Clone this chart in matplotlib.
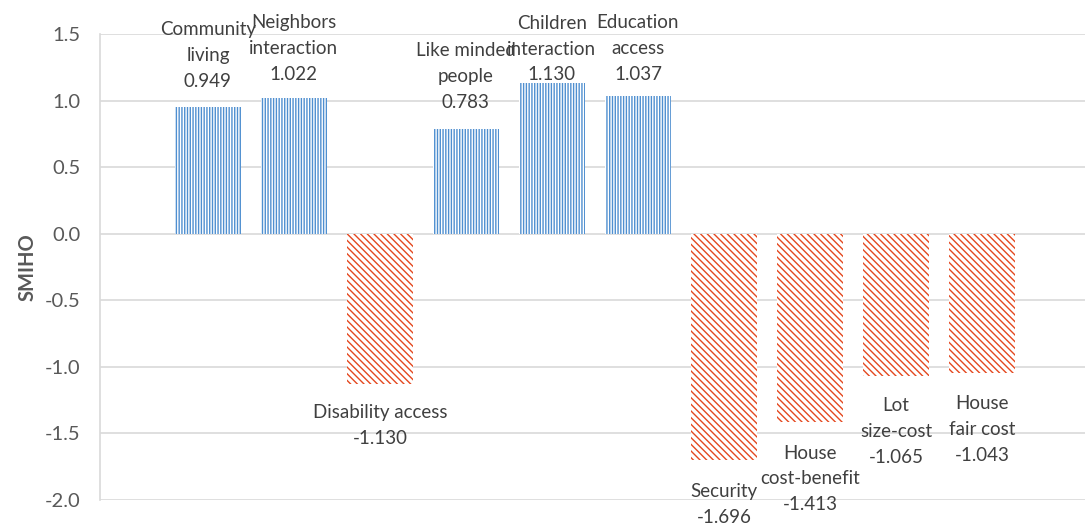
import matplotlib
matplotlib.use("Agg")
import matplotlib.pyplot as plt

# Factor names and their SMIHO scores
categories = [
    "Community\nliving",
    "Neighbors\ninteraction",
    "Disability access",
    "Like minded\npeople",
    "Children\ninteraction",
    "Education\naccess",
    "Security",
    "House\ncost-benefit",
    "Lot\nsize-cost",
    "House\nfair cost",
]
smiho = [0.949, 1.022, -1.130, 0.783, 1.130, 1.037, -1.696, -1.413, -1.065, -1.043]

y_ticks = [1.5, 1.0, 0.5, 0.0, -0.5, -1.0, -1.5, -2.0]

# Pixel offset of each label block centre from its bar end
label_offsets = [52, 49, 41, 53, 34, 47, 45, 57, 56, 57]

plt.rcParams["font.family"] = ["Lato", "DejaVu Sans"]
plt.rcParams["hatch.linewidth"] = 1.0

BLUE = "#4f8fd0"
RED = "#e4481f"
TEXT = "#404040"
GRID = "#d9d9d9"

fig = plt.figure(figsize=(10.86, 5.26), dpi=100)
ax = fig.add_axes([0.0921, 0.0494, 0.9069, 0.886])

x = list(range(len(categories)))
for xi, v in zip(x, smiho):
    pos = v >= 0
    ax.bar(xi, v, width=0.77, facecolor="white",
           edgecolor=BLUE if pos else RED,
           hatch="||||||" if pos else "\\\\\\\\\\",
           linewidth=0, zorder=2)

for xi, v, name, off in zip(x, smiho, categories, label_offsets):
    ax.annotate(f"{name}\n{v:.3f}", xy=(xi, v),
                xytext=(0, off if v >= 0 else -off),
                textcoords="offset pixels", ha="center", va="center",
                fontsize=13.5, color=TEXT, linespacing=1.62,
                annotation_clip=False, zorder=3)

ax.set_ylim(-2.0, 1.5)
ax.set_xlim(-1.254, len(categories) - 1 + 1.196)
ax.set_yticks(y_ticks)
ax.set_yticklabels([f"{t:.1f}" for t in y_ticks])
ax.yaxis.grid(True, color=GRID, linewidth=1.2, zorder=0)
ax.set_axisbelow(True)
ax.set_xticks([])
ax.tick_params(axis="y", length=0, pad=14, labelsize=14.5, labelcolor="#595959")

for s in ("top", "right", "bottom"):
    ax.spines[s].set_visible(False)
ax.spines["left"].set_color(GRID)
ax.spines["left"].set_linewidth(1.2)

fig.text(28 / 1086, 1 - 267 / 526, "SMIHO", rotation=90, ha="center", va="center",
         fontsize=14.5, color="#595959", fontweight="bold")

fig.savefig("out.png", dpi=100)
